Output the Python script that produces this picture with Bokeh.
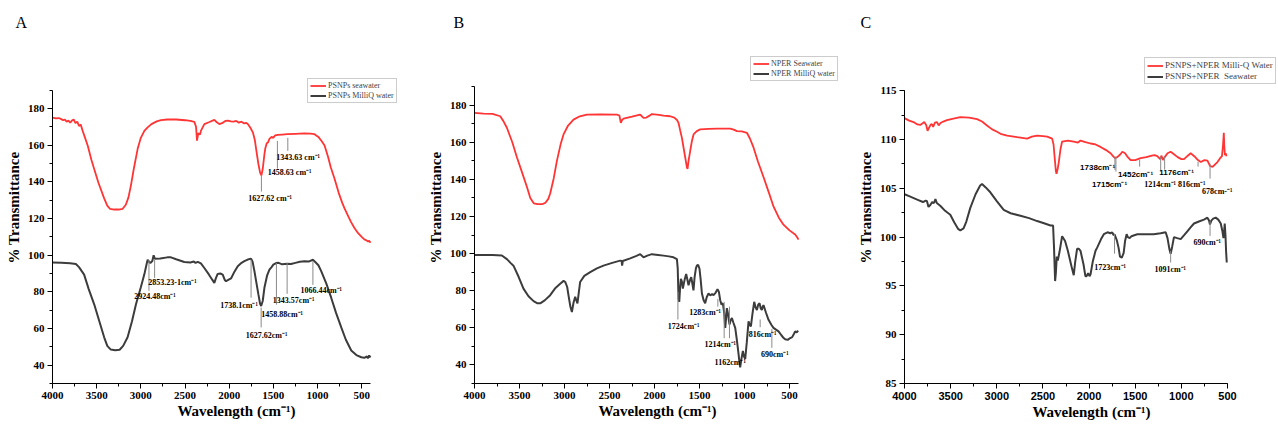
from bokeh.plotting import figure
from bokeh.models import Range1d, SingleIntervalTicker, Legend, LegendItem, ColumnDataSource, Title
from bokeh.layouts import row
from bokeh.embed import file_html
from bokeh.resources import INLINE
from bokeh.core.properties import value

# ---------------- DATA ----------------
# Panel A
a_red_w = [4000,3960,3930,3900,3880,3860,3840,3820,3800,3780,3760,3740,3720,3700,3680,3660,3640,3600,3560,3528,3480,3415,3380,3350,3300,3250,3206,3170,3140,3112,3080,3036,3000,2960,2923,2880,2820,2772,2700,2600,2500,2440,2394,2375,2364,2350,2330,2319,2281,2230,2168,2140,2111,2080,2040,2016,1980,1950,1920,1890,1860,1830,1810,1789,1760,1732,1710,1695,1670,1650,1635,1620,1601,1590,1575,1560,1544,1520,1500,1480,1449,1400,1343,1250,1150,1080,1034,990,950,920,880,850,807,760,720,694,650,620,580,540,500,470,450,429,415,400]
a_red_t = [175.0,174.6,174.8,174.2,173.6,174.0,172.8,173.5,172.2,173.4,174.0,172.0,172.8,170.5,171.2,168.0,165.2,159.5,152.0,147.0,139.5,131.0,127.0,125.3,124.9,124.9,125.3,127.5,131.5,138.1,147.0,158.0,164.0,167.8,169.7,171.5,173.0,173.7,174.0,174.0,173.6,173.2,172.7,170.0,162.5,166.5,165.8,167.9,171.5,172.5,173.8,172.5,171.5,172.0,173.3,173.4,173.0,172.8,173.2,172.3,172.8,171.8,172.2,171.5,169.5,167.0,163.0,158.0,150.0,145.0,143.5,147.0,155.0,158.5,161.0,161.5,163.4,164.5,164.0,165.3,165.6,165.8,166.0,166.2,166.4,166.3,166.0,164.5,162.0,159.8,153.5,148.0,141.7,134.0,128.5,125.5,121.0,118.0,114.7,112.0,110.0,108.6,108.2,107.5,107.8,106.8]
a_blk_w = [4000,3900,3800,3735,3700,3642,3590,3528,3470,3415,3380,3340,3290,3240,3200,3150,3100,3055,3000,2961,2935,2923,2908,2893,2870,2855,2840,2780,2700,2659,2600,2508,2440,2400,2380,2356,2320,2281,2230,2190,2168,2150,2130,2100,2073,2050,2035,2010,1979,1940,1903,1860,1828,1790,1752,1735,1714,1690,1669,1650,1638,1620,1601,1570,1544,1520,1500,1468,1440,1400,1344,1300,1250,1200,1147,1100,1052,1020,990,958,900,845,790,731,680,618,560,504,470,440,430,415,400]
a_blk_t = [96.0,95.8,95.6,95.2,93.5,89.4,81.5,73.2,64.0,55.2,50.5,48.5,48.2,48.4,50.5,55.2,64.0,73.2,82.5,89.4,95.0,97.5,96.5,95.7,96.8,99.9,98.0,98.2,98.8,98.8,97.8,96.3,96.0,96.5,95.8,96.3,95.5,93.0,89.5,86.5,84.9,87.5,89.8,90.0,89.4,86.5,85.8,86.5,87.3,91.0,94.0,95.8,96.7,97.6,98.1,96.5,91.3,84.5,78.6,73.5,72.3,75.0,82.2,89.0,92.1,93.5,94.8,95.7,95.8,95.0,95.3,95.2,95.8,96.4,96.7,96.5,97.5,96.0,94.5,91.3,84.5,76.8,68.5,60.6,54.0,48.0,45.5,44.3,44.0,44.8,43.8,45.3,44.2]

# Panel B
b_red_w = [4000,3900,3800,3714,3680,3640,3580,3529,3470,3418,3380,3340,3300,3250,3214,3180,3159,3120,3084,3040,3011,2960,2900,2830,2751,2600,2418,2390,2374,2360,2344,2250,2159,2140,2122,2090,2060,2029,1950,1900,1826,1780,1750,1733,1715,1696,1675,1659,1640,1633,1620,1603,1585,1566,1530,1492,1400,1300,1159,1120,1084,1030,973,940,900,850,789,730,678,620,567,500,437,415,400]
b_red_t = [175.8,175.4,175.3,174.0,171.5,167.8,160.0,151.9,143.5,136.0,130.0,127.0,126.6,126.6,127.3,129.5,132.4,140.5,150.1,159.5,164.2,169.0,172.2,174.0,174.9,175.0,174.9,174.4,170.4,172.0,172.7,173.8,174.9,174.0,173.1,173.3,174.2,175.2,174.8,174.3,174.0,173.3,172.0,170.4,166.5,162.5,156.5,151.9,146.5,145.7,150.5,155.4,160.5,164.2,166.0,166.9,167.2,167.3,167.3,166.8,166.0,165.8,165.1,162.0,157.2,149.5,141.3,133.0,125.4,119.5,115.6,112.5,110.3,108.8,107.5]
b_blk_w = [4000,3900,3800,3696,3640,3600,3567,3510,3456,3400,3344,3300,3270,3220,3159,3100,3048,3010,2992,2970,2956,2935,2918,2900,2881,2870,2856,2840,2826,2780,2714,2640,2567,2470,2381,2365,2360,2352,2270,2200,2159,2140,2122,2080,2029,1960,1900,1840,1789,1751,1742,1733,1725,1715,1707,1696,1685,1665,1648,1635,1622,1607,1592,1580,1567,1555,1540,1529,1515,1500,1487,1473,1455,1437,1420,1400,1380,1360,1344,1320,1300,1285,1270,1255,1240,1226,1214,1205,1196,1185,1175,1166,1155,1140,1125,1103,1085,1066,1055,1048,1035,1018,1005,992,975,955,942,929,910,892,877,862,848,833,820,807,798,789,760,733,700,678,650,622,590,565,548,520,492,470,450,437,420,404]
b_blk_t = [99.2,99.3,99.2,99.0,97.0,95.0,93.5,87.5,81.1,77.0,74.4,73.2,73.2,74.8,77.6,81.5,83.8,85.3,84.7,82.0,77.6,71.5,68.5,73.5,76.7,75.0,73.2,79.5,84.7,88.0,90.0,92.0,93.5,95.0,96.2,96.0,93.5,96.0,97.4,98.8,99.7,98.8,98.0,98.9,99.7,99.3,98.9,98.5,98.0,97.0,92.0,75.8,74.0,82.0,86.4,85.0,81.1,86.0,89.0,86.0,82.9,85.5,87.3,84.0,80.2,87.0,92.0,93.5,94.0,91.8,86.0,78.5,75.0,73.2,76.5,78.5,77.5,78.2,77.6,79.0,80.8,79.5,74.9,72.5,73.2,68.0,60.0,65.0,70.6,68.0,64.5,61.8,64.0,65.3,63.0,60.0,53.5,45.8,41.0,38.7,43.0,47.6,44.5,43.2,52.0,63.5,61.5,60.8,68.0,74.0,71.0,69.6,72.5,73.2,70.5,69.6,71.5,72.2,68.0,64.3,61.5,60.0,59.0,58.1,56.0,54.5,53.8,53.5,54.5,55.0,56.8,58.1,57.5,58.5]

# Panel C
c_red_w = [4000,3950,3902,3860,3830,3800,3786,3765,3750,3735,3715,3703,3690,3670,3648,3630,3610,3580,3540,3470,3395,3300,3214,3160,3106,3050,2997,2950,2888,2780,2671,2620,2563,2500,2454,2400,2385,2375,2360,2353,2340,2328,2310,2292,2230,2166,2120,2093,2040,1984,1930,1876,1820,1767,1740,1720,1694,1660,1640,1610,1580,1550,1500,1441,1380,1320,1290,1260,1230,1215,1200,1188,1150,1116,1080,1040,1000,971,930,899,860,820,790,750,717,690,663,640,609,580,560,548,540,535,528,520,510]
c_red_t = [112.2,111.95,111.8,111.55,111.5,111.7,111.8,111.5,110.9,111.2,111.55,111.6,111.3,111.75,111.8,111.45,111.7,111.85,112.0,112.15,112.3,112.25,112.1,111.85,111.45,111.05,110.8,110.55,110.4,110.25,110.1,110.3,110.4,110.35,110.3,110.1,109.5,108.4,106.8,106.5,107.0,107.7,109.0,109.8,109.9,109.8,109.7,109.9,109.75,109.6,109.5,109.25,108.95,108.6,108.3,108.1,108.2,108.5,108.75,108.6,108.2,107.9,107.9,108.1,108.2,108.35,108.4,108.3,108.0,108.35,107.9,108.1,108.6,108.75,108.5,108.2,108.0,108.0,108.35,108.6,108.3,107.9,107.7,107.9,107.85,107.3,107.2,107.4,107.7,108.1,108.3,109.5,110.7,109.4,108.4,108.6,108.3]
c_blk_w = [4000,3950,3900,3850,3800,3770,3757,3740,3720,3700,3680,3665,3650,3610,3560,3504,3460,3420,3395,3360,3330,3287,3230,3180,3160,3120,3070,3000,2925,2850,2744,2650,2563,2480,2418,2390,2380,2368,2360,2350,2339,2320,2292,2260,2230,2190,2166,2150,2130,2110,2093,2060,2040,2028,2010,1995,1984,1960,1930,1911,1870,1840,1800,1770,1749,1735,1724,1700,1680,1665,1645,1625,1610,1593,1580,1560,1540,1510,1477,1400,1300,1225,1170,1150,1130,1116,1100,1080,1045,1007,970,935,900,863,810,755,718,700,690,675,655,628,600,573,555,544,537,530,522,515,508]
c_blk_t = [104.4,104.2,104.0,103.8,103.6,103.75,103.7,103.1,103.3,103.6,103.5,103.9,103.5,103.2,102.7,102.3,101.5,100.85,100.7,100.9,101.6,103.0,104.4,105.3,105.45,105.1,104.6,103.7,102.8,102.45,102.2,101.95,101.65,101.4,101.2,101.2,99.0,95.5,96.3,98.0,97.6,98.5,100.1,99.6,98.6,97.0,96.1,97.5,98.8,98.8,98.6,97.2,96.0,96.0,96.3,96.0,96.2,97.5,98.6,98.95,99.8,100.3,100.5,100.4,100.5,100.2,100.3,99.7,98.9,98.0,97.9,98.4,99.6,100.3,100.0,99.9,100.1,100.2,100.3,100.3,100.3,100.4,100.5,99.9,98.8,98.3,99.0,100.0,99.9,99.8,100.2,100.6,101.0,101.4,101.6,101.8,102.0,101.7,101.3,101.7,101.9,102.0,101.8,101.4,100.6,99.9,100.5,101.4,100.2,98.5,97.4]

# Peak annotations: label, marker wavenumber, marker top/bottom value, label x/y
a_ann_text = ["1343.63 cm⁻¹", "1458.63 cm⁻¹", "1627.62 cm⁻¹", "2853.23-1cm⁻¹", "2924.48cm⁻¹", "1738.1cm⁻¹", "1627.62cm⁻¹", "1458.88cm⁻¹", "1343.57cm⁻¹", "1066.44cm⁻¹"]
a_ann_w = [1336, 1454, 1635, 2844, 2908, 1752, 1638, 1465, 1344, 1052]
a_ann_top = [164.0, 162.3, 143.9, 97.4, 97.4, 97.4, 71.4, 95.7, 95.7, 96.8]
a_ann_bot = [156.9, 147.2, 134.7, 87.6, 80.6, 76.8, 60.6, 73.0, 78.9, 83.8]
a_ann_tx = [1219, 1315, 1536, 2642, 2840, 1888, 1576, 1400, 1270, 958]
a_ann_ty = [153.1, 145.0, 130.9, 84.9, 77.3, 72.5, 56.3, 67.6, 75.2, 80.6]

b_ann_text = ["1724cm⁻¹", "1283cm⁻¹", "1214cm⁻¹", "1162cm⁻¹", "816cm⁻¹", "690cm⁻¹"]
b_ann_w = [1740, 1296, 1226, 1167, 826, 696]
b_ann_top = [79.4, 75.6, 74.0, 71.4, 64.5, 59.3]
b_ann_bot = [64.5, 71.4, 54.4, 54.4, 60.3, 49.2]
b_ann_tx = [1676, 1437, 1270, 1159, 798, 664]
b_ann_ty = [60.8, 68.2, 51.2, 41.2, 56.5, 45.4]

c_ann_text = ["1738cm⁻¹", "1715cm⁻¹", "1452cm⁻¹", "1214cm⁻¹", "1176cm⁻¹", "816cm⁻¹", "678cm-⁻¹", "1723cm⁻¹", "1091cm⁻¹", "690cm⁻¹"]
c_ann_w = [1720, 1709, 1452, 1224, 1181, 819, 689, 1724, 1116, 689]
c_ann_top = [108.24, 108.24, 107.93, 108.24, 108.24, 107.73, 107.53, 100.33, 98.6, 101.63]
c_ann_bot = [106.9, 106.72, 107.23, 106.72, 106.92, 107.23, 106.0, 98.31, 97.4, 100.13]
c_ann_tx = [1908, 1778, 1496, 1230, 1051, 888, 611, 1772, 1121, 720]
c_ann_ty = [107.15, 105.43, 106.45, 105.43, 106.65, 105.43, 104.7, 96.92, 96.65, 99.45]
c_ann_font = ["Liberation Sans", "Liberation Sans", "Liberation Sans", "Liberation Serif", "Liberation Sans", "Liberation Serif", "Liberation Serif", "Liberation Serif", "Liberation Serif", "Liberation Serif"]

RED = "#ff3434"
BLK = "#3c3c3c"
SERIF = "Liberation Serif"
H = 435


def make_fig(W, letter, letter_off, fl, ft, fb, x_px_end, x_lo, y_lo, y_hi, y_px_hi, yint, xfont):
    # frame: left fl, top ft, bottom fb (px in figure); frame right = figure right edge.
    ppx = (x_px_end - fl) / (4000 - x_lo)
    x_end = x_lo - (W - x_px_end) / ppx
    ppy = (fb - y_px_hi) / (y_hi - y_lo)
    y_top = y_hi + (y_px_hi - ft) / ppy
    p = figure(width=W, height=H, x_range=Range1d(4000, x_end), y_range=Range1d(y_lo, y_top),
               output_backend="svg", toolbar_location=None,
               min_border_left=fl, min_border_right=0, min_border_top=ft, min_border_bottom=H - fb)
    p.title = Title(text=letter, align="left", offset=letter_off, standoff=2,
                    text_font=SERIF, text_font_style="normal", text_font_size="16px", text_color="black")
    p.grid.visible = False
    p.outline_line_color = None
    p.xaxis.ticker = SingleIntervalTicker(interval=500, num_minor_ticks=2)
    p.yaxis.ticker = SingleIntervalTicker(interval=yint, num_minor_ticks=2)
    p.xaxis.bounds = (x_lo, 4000)
    p.yaxis.bounds = (y_lo, y_hi)
    for ax in (p.xaxis[0], p.yaxis[0]):
        ax.major_tick_in = 0
        ax.major_tick_out = 5
        ax.minor_tick_in = 0
        ax.minor_tick_out = 3
        ax.axis_line_color = "black"
        ax.major_tick_line_color = "black"
        ax.minor_tick_line_color = "black"
        ax.major_label_text_font = SERIF
        ax.major_label_text_font_style = "bold"
        ax.major_label_text_font_size = "11px"
        ax.major_label_text_color = "black"
        ax.major_label_standoff = 3
        ax.axis_label_text_font = SERIF
        ax.axis_label_text_font_style = "bold"
        ax.axis_label_text_font_size = "15px"
        ax.axis_label_text_color = "black"
        ax.axis_label_standoff = 3
    p.xaxis.axis_label_standoff = 1
    p.xaxis.major_label_text_font = xfont
    p.xaxis.axis_label = "Wavelength (cm⁻¹)"
    p.yaxis.axis_label = "% Transmittance"
    return p


def annotate(p, text, w, top, bot, tx, ty, fonts=None):
    src = dict(w=w, top=top, bot=bot)
    p.segment(x0="w", y0="top", x1="w", y1="bot", source=ColumnDataSource(src),
              line_color="#8a8a8a", line_width=1)
    for i, t in enumerate(text):
        f = fonts[i] if fonts else SERIF
        p.text(x=[tx[i]], y=[ty[i]], text=[t], text_font=value(f), text_font_style="bold",
               text_font_size="8px", text_align="center", text_baseline="middle", text_color="black")


def add_legend(p, items, loc, size="8px"):
    lg = Legend(items=items, location=loc, label_text_font=SERIF, label_text_font_size=size,
                glyph_width=16, glyph_height=9, label_height=9, label_standoff=2,
                padding=2, spacing=1, margin=0, border_line_color="#9a9a9a",
                background_fill_alpha=1.0)
    p.add_layout(lg)


# Panel A (figure spans page x 0..420)
pa = make_fig(420, "A", -37, 52, 31, 385, 370, 400, 30, 190, 90, 20, SERIF)
ra = pa.line(a_red_w, a_red_t, line_color=RED, line_width=1.8)
ka = pa.line(a_blk_w, a_blk_t, line_color=BLK, line_width=2)
annotate(pa, a_ann_text, a_ann_w, a_ann_top, a_ann_bot, a_ann_tx, a_ann_ty)
add_legend(pa, [LegendItem(label="PSNPs seawater", renderers=[ra]),
                LegendItem(label="PSNPs MilliQ water", renderers=[ka])], (255, 280))

# Panel B (figure spans page x 420..840)
pb = make_fig(420, "B", -21, 54, 25, 383, 378, 400, 30, 190, 81, 20, SERIF)
rb = pb.line(b_red_w, b_red_t, line_color=RED, line_width=1.8)
kb = pb.line(b_blk_w, b_blk_t, line_color=BLK, line_width=2)
annotate(pb, b_ann_text, b_ann_w, b_ann_top, b_ann_bot, b_ann_tx, b_ann_ty)
add_legend(pb, [LegendItem(label="NPER Seawater", renderers=[rb]),
                LegendItem(label="NPER MilliQ water", renderers=[kb])], (276, 302))

# Panel C (figure spans page x 840..1278)
pc = make_fig(438, "C", -44, 64, 28, 384, 387, 500, 85, 115, 88, 5, "Liberation Sans")
rc = pc.line(c_red_w, c_red_t, line_color=RED, line_width=1.8)
kc = pc.line(c_blk_w, c_blk_t, line_color=BLK, line_width=2)
annotate(pc, c_ann_text, c_ann_w, c_ann_top, c_ann_bot, c_ann_tx, c_ann_ty, c_ann_font)
add_legend(pc, [LegendItem(label="PSNPS+NPER Milli-Q Water", renderers=[rc]),
                LegendItem(label="PSNPS+NPER  Seawater", renderers=[kc])], (240, 299), "9px")

layout = row(pa, pb, pc)
open("out.html", "w").write(file_html(layout, INLINE))
